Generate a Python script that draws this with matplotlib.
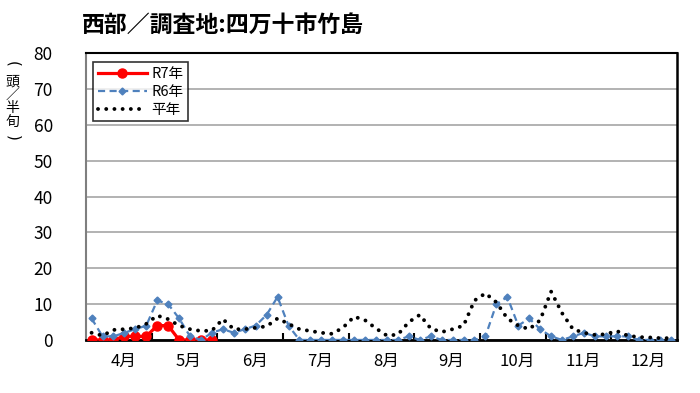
import matplotlib
matplotlib.use("Agg")
import matplotlib.pyplot as plt
import numpy as np

plt.rcParams['font.family'] = ['Noto Sans CJK JP', 'DejaVu Sans']

months = ["4月", "5月", "6月", "7月", "8月", "9月", "10月", "11月", "12月"]
periods_per_month = 6

r7 = [0, 0, 0, 1, 1, 1, 4, 4, 0, 0, 0, 0]
r6 = [6, 1, 1, 2, 3, 4, 11, 10, 6, 1,
      0, 2, 3, 2, 3, 4, 7, 12, 4, 0,
      0, 0, 0, 0, 0, 0, 0, 0, 0, 1,
      0, 1, 0, 0, 0, 0, 1, 10, 12, 4,
      6, 3, 1, 0, 1, 2, 1, 1, 1, 1,
      0, 0, 0, 0]
normal = [2, 1.2, 2.8, 3, 3.3, 4.5, 6.8, 5.8, 4, 3,
          2.5, 2.6, 5.8, 3, 3, 3.4, 3.8, 6, 4.5, 3,
          2.5, 2, 1.7, 3.5, 6.5, 5.5, 3.2, 1.2, 1.5, 5,
          7, 3.2, 2.2, 3, 4, 11, 13, 10.5, 6, 4,
          3, 5.5, 13.5, 7.5, 3, 2, 1.4, 1.6, 2.5, 1.2,
          0.8, 0.7, 0.5, 0.5]

n = len(months) * periods_per_month
fig = plt.figure(figsize=(7.0, 3.93), dpi=100)
ax = fig.add_axes([0.123, 0.135, 0.844, 0.730])

x7 = np.arange(len(r7))
x6 = np.arange(len(r6))
xn = np.arange(len(normal))

ax.plot(x7, r7, color='#FF0000', lw=2.3, marker='o', ms=6.5, zorder=3, label='R7年')
ax.plot(x6, r6, color='#4F81BD', lw=1.6, ls=(0, (3.2, 2.0)), marker='D', ms=3.5,
        zorder=4, label='R6年')
ax.plot(xn, normal, color='black', lw=2.8, ls=(0, (0.01, 2.1)),
        dash_capstyle='round', zorder=5, label='平年')

ax.set_xlim(-0.5, n - 0.5)
ax.set_ylim(0, 80)
ax.set_yticks(np.arange(0, 81, 10))
ax.grid(axis='y', color='#A6A6A6', lw=1.2)
ax.set_axisbelow(True)

bounds = np.arange(periods_per_month - 0.5, n - 0.5, periods_per_month)
ax.set_xticks(bounds)
ax.set_xticklabels([])
ax.tick_params(axis='x', direction='in', length=5, width=1.5, color='black')
ax.tick_params(axis='y', length=0, pad=24, labelsize=12.5)

centers = np.arange(len(months)) * periods_per_month + (periods_per_month - 1) / 2 + 0.4
for c, m in zip(centers, months):
    ax.text(c, -3.5, m, ha='center', va='top', fontsize=12,
            transform=ax.transData)

for s in ['top', 'right', 'bottom']:
    ax.spines[s].set_color('black')
ax.spines['bottom'].set_linewidth(2.0)
ax.spines['right'].set_linewidth(1.8)
ax.spines['top'].set_linewidth(1.5)
ax.spines['left'].set_color('#7F7F7F')
ax.spines['left'].set_linewidth(1.5)

leg = ax.legend(loc='upper left', bbox_to_anchor=(0.012, 0.968), fontsize=10.5,
                frameon=True, fancybox=False, edgecolor='black', handlelength=3.4,
                borderpad=0.3, labelspacing=0.28, handletextpad=0.3, borderaxespad=0)
leg.get_frame().set_linewidth(1.2)

fig.text(0.117, 0.935, "西部／調査地:四万十市竹島", fontsize=16.5, fontweight='bold',
         ha='left', va='center')

# vertical y-axis unit label
ylab_x = 0.018
fig.text(ylab_x, 0.838, "(", fontsize=11, ha='center', va='center', rotation=-90,
         family='DejaVu Sans')
fig.text(ylab_x, 0.742, "頭\n／\n半\n旬", fontsize=10, ha='center', va='center',
         linespacing=0.95)
fig.text(ylab_x, 0.648, ")", fontsize=11, ha='center', va='center', rotation=-90,
         family='DejaVu Sans')

fig.savefig("out.png", dpi=100)
